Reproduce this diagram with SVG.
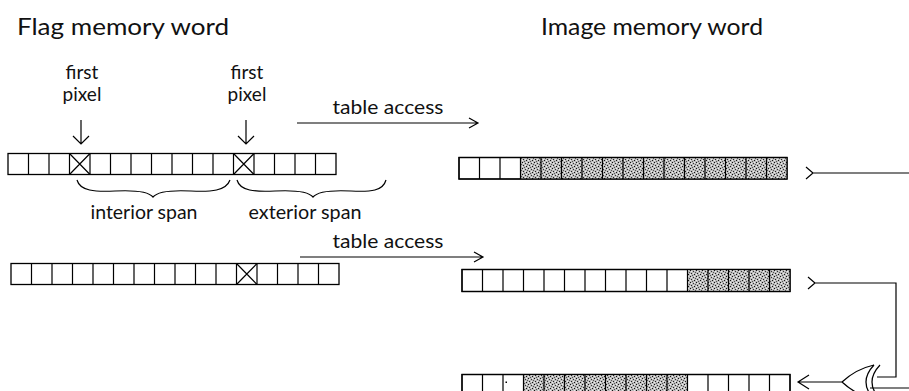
<svg xmlns="http://www.w3.org/2000/svg" width="909" height="391" viewBox="0 0 909 391">
  <style>
    .t { font-family: "Lato", "Liberation Sans", sans-serif; fill: #111; }
    .title { font-size: 23px; }
    .lbl { font-size: 19px; }
    .cell { fill: #fff; stroke: #000; stroke-width: 1.3; }
    .grid { fill: none; stroke: #000; stroke-width: 1.2; }
    .line { fill: none; stroke: #000; stroke-width: 1.2; }
    .shade { fill: url(#stipple); }
  </style>
  <defs>
    <pattern id="stipple" width="6" height="6" patternUnits="userSpaceOnUse">
      <rect width="6" height="6" fill="#bdbdbd"/>
      <rect x="0" y="0" width="1" height="1" fill="#111"/>
      <rect x="3" y="1" width="1" height="1" fill="#333"/>
      <rect x="1" y="3" width="1" height="1" fill="#222"/>
      <rect x="4" y="4" width="1" height="1" fill="#111"/>
      <rect x="5" y="2" width="1" height="1" fill="#555"/>
      <rect x="2" y="5" width="1" height="1" fill="#555"/>
      <rect x="4" y="0" width="1" height="1" fill="#eee"/>
      <rect x="1" y="1" width="1" height="1" fill="#eee"/>
      <rect x="3" y="3" width="1" height="1" fill="#eee"/>
      <rect x="0" y="4" width="1" height="1" fill="#eee"/>
    </pattern>
  </defs>

  <!-- headings -->
  <text class="t title" x="17" y="35" textLength="212" lengthAdjust="spacingAndGlyphs">Flag memory word</text>
  <text class="t title" x="541" y="35" textLength="222" lengthAdjust="spacingAndGlyphs">Image memory word</text>

  <!-- first-pixel labels -->
  <g id="label-first-pixel-1">
    <text class="t lbl" x="82" y="79" text-anchor="middle">first</text>
    <text class="t lbl" x="82" y="101" text-anchor="middle">pixel</text>
  </g>
  <g id="label-first-pixel-2">
    <text class="t lbl" x="247" y="79" text-anchor="middle">first</text>
    <text class="t lbl" x="247" y="101" text-anchor="middle">pixel</text>
  </g>

  <!-- flag word 1 -->
  <g id="flag-word-1">
    <rect class="cell" x="8" y="153.5" width="328" height="21"/>
    <path class="grid" d="M28.5 153.5v21M49 153.5v21M69.5 153.5v21M90 153.5v21M110.5 153.5v21M131 153.5v21M151.5 153.5v21M172 153.5v21M192.5 153.5v21M213 153.5v21M233.5 153.5v21M254 153.5v21M274.5 153.5v21M295 153.5v21M315.5 153.5v21"/>
    <path class="grid" d="M69.5 153.5L90 174.5M90 153.5L69.5 174.5M233.5 153.5L254 174.5M254 153.5L233.5 174.5"/>
  </g>

  <!-- span braces -->
  <g id="interior-span">
    <path class="line" d="M77 180C80 191 95 192 115 191C135 190 148 191 153 197C158 191 171 190 191 191C211 192 226 191 230 180"/>
    <text class="t lbl" x="144" y="219" text-anchor="middle" textLength="107" lengthAdjust="spacingAndGlyphs">interior span</text>
  </g>
  <g id="exterior-span">
    <path class="line" d="M237 180C240 191 255 192 275 191C295 190 308 191 313 197C318 191 331 190 351 191C371 192 383 191 386 180"/>
    <text class="t lbl" x="305" y="219" text-anchor="middle" textLength="113" lengthAdjust="spacingAndGlyphs">exterior span</text>
  </g>

  <!-- flag word 2 -->
  <g id="flag-word-2">
    <rect class="cell" x="11" y="263.5" width="328" height="21"/>
    <path class="grid" d="M31.5 263.5v21M52 263.5v21M72.5 263.5v21M93 263.5v21M113.5 263.5v21M134 263.5v21M154.5 263.5v21M175 263.5v21M195.5 263.5v21M216 263.5v21M236.5 263.5v21M257 263.5v21M277.5 263.5v21M298 263.5v21M318.5 263.5v21"/>
    <path class="grid" d="M236.5 263.5L257 284.5M257 263.5L236.5 284.5"/>
  </g>

  <!-- image word 1 -->
  <g id="image-word-1">
    <rect class="cell" x="459" y="157.5" width="328" height="21.5"/>
    <rect class="shade" x="520.5" y="157.5" width="266.5" height="21.5"/>
    <rect class="grid" x="459" y="157.5" width="328" height="21.5"/>
    <path class="grid" d="M479.5 157.5v21.5M500 157.5v21.5M520.5 157.5v21.5M541 157.5v21.5M561.5 157.5v21.5M582 157.5v21.5M602.5 157.5v21.5M623 157.5v21.5M643.5 157.5v21.5M664 157.5v21.5M684.5 157.5v21.5M705 157.5v21.5M725.5 157.5v21.5M746 157.5v21.5M766.5 157.5v21.5"/>
  </g>

  <!-- image word 2 -->
  <g id="image-word-2">
    <rect class="cell" x="462" y="269.5" width="328" height="22"/>
    <rect class="shade" x="687.5" y="269.5" width="102.5" height="22"/>
    <rect class="grid" x="462" y="269.5" width="328" height="22"/>
    <path class="grid" d="M482.5 269.5v22M503 269.5v22M523.5 269.5v22M544 269.5v22M564.5 269.5v22M585 269.5v22M605.5 269.5v22M626 269.5v22M646.5 269.5v22M667 269.5v22M687.5 269.5v22M708 269.5v22M728.5 269.5v22M749 269.5v22M769.5 269.5v22"/>
  </g>

  <!-- image word 3 (result) -->
  <g id="image-word-3">
    <rect class="cell" x="462" y="374.5" width="328" height="22"/>
    <rect class="shade" x="523.5" y="374.5" width="164" height="22"/>
    <rect class="grid" x="462" y="374.5" width="328" height="22"/>
    <path class="grid" d="M482.5 374.5v22M503 374.5v22M523.5 374.5v22M544 374.5v22M564.5 374.5v22M585 374.5v22M605.5 374.5v22M626 374.5v22M646.5 374.5v22M667 374.5v22M687.5 374.5v22M708 374.5v22M728.5 374.5v22M749 374.5v22M769.5 374.5v22"/>
    <rect x="505.5" y="381.5" width="1.5" height="1.5" fill="#000"/>
  </g>

  <!-- combining gate -->
  <g id="gate">
    <path class="line" d="M842 382Q856 369 874 365M842 382Q856 395 874 399"/>
    <path class="line" d="M874 365Q858 382 874 399M880 365Q864 382 880 399"/>
  </g>

  <!-- connectors -->
  <g id="connectors">
    <!-- first pixel pointers -->
    <path class="line" d="M81 120V144M73 136L81 144L89 136"/>
    <path class="line" d="M246 120V144M238 136L246 144L254 136"/>
    <!-- table access arrows -->
    <path class="line" d="M297 123H478M469 118L478 123L469 128"/>
    <text class="t lbl" x="388" y="114" text-anchor="middle" textLength="111" lengthAdjust="spacingAndGlyphs">table access</text>
    <path class="line" d="M300 257H483M474 252L483 257L474 262"/>
    <text class="t lbl" x="388" y="248" text-anchor="middle" textLength="111" lengthAdjust="spacingAndGlyphs">table access</text>
    <!-- outputs of image words into the gate -->
    <path class="line" d="M806 167L813 173L806 179M813 173H909"/>
    <path class="line" d="M808 277L815 283L808 289M815 283H896V377H877"/>
    <path class="line" d="M870 388H909"/>
    <!-- gate result back to image word -->
    <path class="line" d="M842 382H798M809 375L798 382L809 389"/>
  </g>
</svg>
